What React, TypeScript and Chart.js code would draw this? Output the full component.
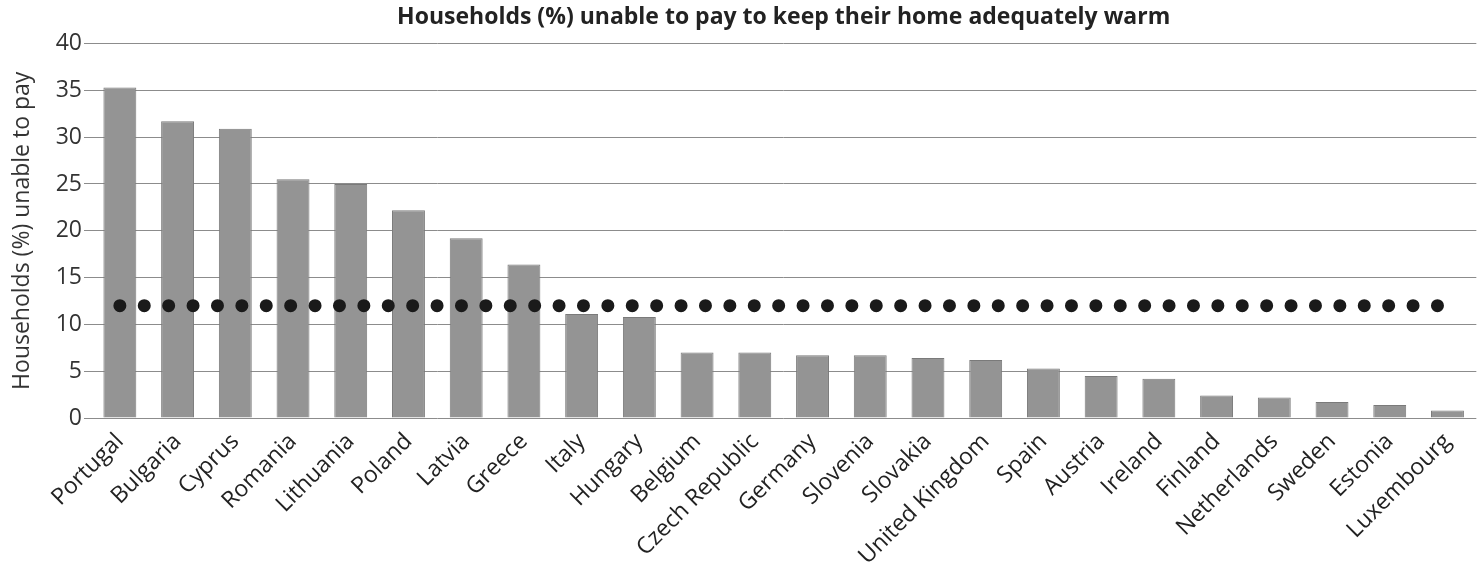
import React, { useEffect, useRef } from "react";
import { Chart, registerables } from "chart.js";

Chart.register(...registerables);

const countries = [
  "Portugal", "Bulgaria", "Cyprus", "Romania", "Lithuania", "Poland", "Latvia", "Greece",
  "Italy", "Hungary", "Belgium", "Czech Republic", "Germany", "Slovenia", "Slovakia",
  "United Kingdom", "Spain", "Austria", "Ireland", "Finland", "Netherlands", "Sweden",
  "Estonia", "Luxembourg",
];
const unablePct = [
  35.3, 31.7, 30.9, 25.5, 25.0, 22.2, 19.2, 16.4, 11.1, 10.8, 7.0, 7.0, 6.7, 6.7, 6.4,
  6.2, 5.3, 4.5, 4.2, 2.4, 2.2, 1.7, 1.4, 0.8,
];
const euAverage = countries.map(() => 12.0);
const titleText = "Households (%) unable to pay to keep their home adequately warm";
const yAxisTitle = "Households (%) unable to pay";

export default function App() {
  const ref = useRef<HTMLCanvasElement | null>(null);
  useEffect(() => {
    document.body.style.margin = "0";
    const ctx = ref.current!.getContext("2d")!;
    const font = "'Open Sans', sans-serif";
    const chart = new Chart(ctx, {
      type: "bar",
      data: {
        labels: countries,
        datasets: [
          {
            type: "line",
            label: "Average",
            data: euAverage,
            borderColor: "#1a1a1a",
            borderWidth: 13,
            borderDash: [0, 24.4],
            borderCapStyle: "round",
            pointRadius: 0,
            fill: false,
            order: 0,
            clip: false,
          } as any,
          {
            type: "bar",
            label: "Households",
            data: unablePct,
            backgroundColor: "#949494",
            borderColor: "#7a7a7a",
            borderWidth: 1,
            barPercentage: 0.57,
            categoryPercentage: 1,
            order: 1,
          },
        ],
      },
      options: {
        animation: false,
        responsive: false,
        layout: { padding: { top: 4, right: 0, left: 0, bottom: 0 } },
        plugins: {
          legend: { display: false },
          tooltip: { enabled: false },
          title: {
            display: true,
            text: titleText,
            fullSize: false,
            color: "#222",
            font: { family: font, size: 23, weight: "bold" },
            padding: { top: 0, bottom: 12 },
          },
        },
        scales: {
          x: {
            grid: { display: false, drawTicks: false },
            border: { display: false },
            ticks: {
              color: "#222",
              font: { family: font, size: 23 },
              maxRotation: 45,
              minRotation: 45,
              autoSkip: false,
              padding: 10,
            },
            afterFit: (s: any) => {
              s.height = 150;
            },
          },
          y: {
            min: 0,
            max: 40,
            ticks: {
              stepSize: 5,
              color: "#333",
              font: { family: font, size: 23 },
              padding: 2,
            },
            grid: { color: "#8c8c8c", lineWidth: 1, drawTicks: true, tickLength: 7 },
            border: { display: false },
            title: {
              display: true,
              text: yAxisTitle,
              color: "#333",
              font: { family: font, size: 23 },
              padding: { top: 9, bottom: 0 },
            },
            afterFit: (s: any) => {
              s.width = 91;
            },
          },
        },
      },
    });
    return () => chart.destroy();
  }, []);
  return (
    <div style={{ position: "absolute", left: 0, top: 0, width: 1477, height: 568, background: "#fff" }}>
      <canvas ref={ref} width={1477} height={568} />
    </div>
  );
}
